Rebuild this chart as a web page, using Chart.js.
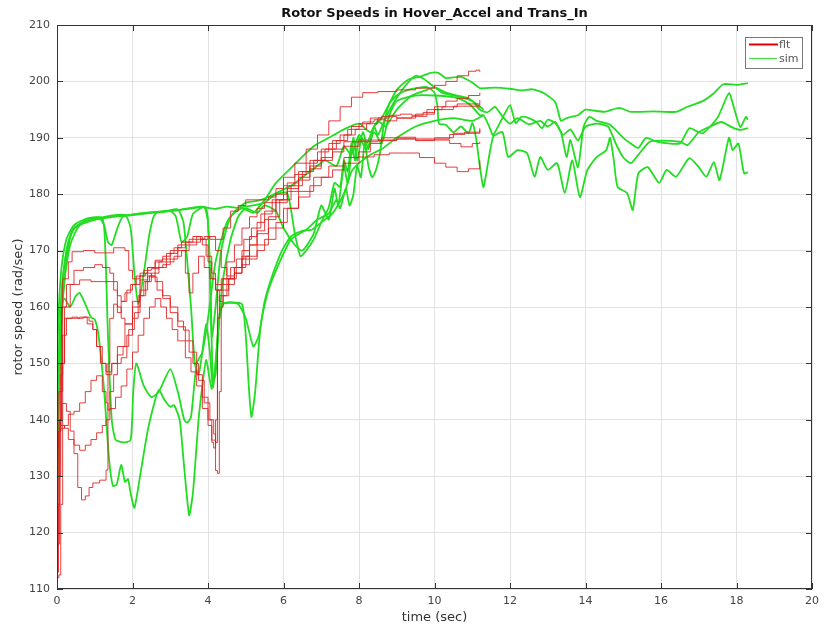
<!DOCTYPE html>
<html lang="en">
<head>
<meta charset="UTF-8" />
<title>Rotor Speeds in Hover_Accel and Trans_In</title>
<script src="https://cdn.jsdelivr.net/npm/chart.js@4"></script>
<style>
  html, body { margin: 0; padding: 0; background: #fff; }
</style>
</head>
<body>
<canvas id="rotorChart" width="825" height="626"></canvas>
<script>
// axis ticks
const timeTicks = [0, 2, 4, 6, 8, 10, 12, 14, 16, 18, 20];
const speedTicks = [110, 120, 130, 140, 150, 160, 170, 180, 190, 200, 210];

// flight data, [time (sec), rotor speed (rad/sec)]
const flt1 = [[0,112],[0.05,112.5],[0.1,125],[0.15,150],[0.2,158],[0.45,158],[0.6,158.2],[0.8,157],[0.95,156],[1.05,153],[1.2,150],[1.3,148],[1.45,150],[1.6,153],[1.8,157],[2.0,161],[2.2,164.8],[2.4,167],[2.6,168.3],[2.8,169],[3.0,170],[3.2,171],[3.5,171.5],[3.8,172],[4.0,172.5],[4.2,172],[4.4,174],[4.6,177],[4.8,178],[5.0,179],[5.3,179],[5.6,179.5],[5.8,181],[6.0,183],[6.3,185.5],[6.6,188],[6.9,190.5],[7.2,193],[7.5,195.5],[7.8,197.2],[8.1,198],[8.5,198.2],[9.0,198.5],[9.5,198.8],[10.0,199.3],[10.3,200],[10.6,201],[10.9,201.8],[11.1,202],[11.2,201.7]];
const flt2 = [[0,140],[0.05,145],[0.15,165],[0.3,168],[0.4,169.8],[0.7,170],[1.0,169.6],[1.26,169.6],[1.5,170.5],[1.8,170],[1.9,166.5],[2.0,165],[2.2,166],[2.4,167],[2.6,168],[2.8,168.5],[3.0,169.5],[3.2,170.5],[3.4,171.5],[3.6,172.5],[3.8,172],[3.95,169],[4.1,166],[4.2,164],[4.35,165],[4.5,168],[4.7,171],[4.9,174],[5.1,176],[5.3,177.5],[5.5,178.5],[5.8,180],[6.1,182],[6.4,184],[6.7,186],[7.0,188],[7.3,189.5],[7.6,190.5],[7.9,191.5],[8.2,192.5],[8.5,193.5],[8.8,194],[9.1,194.2],[9.4,194],[9.7,194.5],[10.0,195.5],[10.3,196.5],[10.6,197],[10.9,197.5],[11.2,198]];
const flt3 = [[0,118],[0.07,140],[0.12,160],[0.25,164],[0.45,166.5],[0.7,167],[1.0,167.5],[1.2,167],[1.4,166],[1.5,163],[1.6,160],[1.7,158],[1.8,157],[2.0,160],[2.2,163],[2.4,165.5],[2.6,167],[2.8,167.5],[3.0,168.5],[3.2,170],[3.4,166],[3.5,162.5],[3.6,166],[3.75,169],[3.9,167],[4.05,165],[4.2,163],[4.35,164],[4.5,165],[4.7,167],[4.9,169],[5.1,171],[5.3,173],[5.6,176],[5.9,179],[6.2,181.5],[6.5,184],[6.8,186],[7.1,188],[7.4,189.5],[7.7,191.5],[8.0,192.5],[8.3,193.5],[8.6,193.8],[9.0,193.5],[9.4,193.8],[9.8,195],[10.2,195.5],[10.6,196],[11.2,196.7]];
const flt4 = [[0,125],[0.05,138],[0.1,150],[0.2,160],[0.35,164],[0.6,164.8],[0.9,164.5],[1.2,164.5],[1.5,164.5],[1.6,162],[1.7,161],[1.8,162.5],[1.95,164],[2.1,165.5],[2.3,166.5],[2.5,166.8],[2.7,168],[2.9,169.5],[3.1,170.5],[3.3,171.5],[3.5,172],[3.7,172.5],[3.85,171],[4.0,168],[4.1,165],[4.2,163],[4.3,161],[4.4,162],[4.55,165],[4.75,168.5],[4.95,172],[5.15,174],[5.4,176.5],[5.7,179],[6.0,181.5],[6.3,183.5],[6.6,185.5],[6.9,187.5],[7.2,189],[7.5,190.5],[7.8,192],[8.1,192.8],[8.4,193.2],[8.7,193],[9.0,193.5],[9.5,194.2],[10.0,195],[10.5,195.6],[11.2,196]];
const flt5 = [[0,113],[0.04,125],[0.08,140],[0.13,142.9],[0.25,141.5],[0.35,138],[0.45,134],[0.55,128],[0.65,125.8],[0.75,126.5],[0.85,128],[0.95,128.8],[1.13,129.3],[1.3,131.1],[1.35,150],[1.4,158],[1.5,160.5],[1.6,159],[1.7,161],[1.85,163],[2.0,164],[2.2,165.5],[2.35,166],[2.5,165.3],[2.65,163],[2.8,161.5],[3.0,160],[3.2,157.5],[3.35,155.9],[3.5,152],[3.7,148],[3.85,144],[4.0,140],[4.1,136.4],[4.2,131],[4.25,130.5],[4.3,145],[4.35,160],[4.4,163],[4.55,165],[4.7,167],[4.9,170],[5.1,172.5],[5.3,175],[5.5,177],[5.8,179],[6.1,181],[6.4,183],[6.7,185],[7.0,186.5],[7.3,188],[7.6,189.3],[8.0,189.6],[8.5,189.6],[9.0,189.8],[9.5,189.6],[10.0,189.8],[10.4,190.6],[10.8,191],[11.2,191.7]];
const flt6 = [[0,120],[0.05,130],[0.1,138.5],[0.2,139],[0.3,141],[0.45,141.5],[0.6,143],[0.75,145],[0.9,147],[1.05,147.8],[1.2,145],[1.3,143],[1.35,141.7],[1.4,145],[1.5,148],[1.6,150],[1.7,151],[1.85,155],[2.0,158],[2.15,162],[2.3,164.5],[2.45,165.5],[2.6,164.5],[2.8,162],[3.0,159],[3.2,156.5],[3.4,154],[3.6,150],[3.75,147],[3.9,143],[4.05,140],[4.15,137.5],[4.2,136],[4.25,158],[4.3,162],[4.5,164],[4.7,166],[4.9,168.5],[5.1,171],[5.3,173.5],[5.5,175.5],[5.8,178.5],[6.1,180.5],[6.4,182.5],[6.7,184.5],[7.0,186],[7.3,187.5],[7.6,188.5],[8.0,189.3],[8.5,189.5],[9.0,189.8],[9.5,189.5],[10.0,190],[10.5,190.8],[11.2,191.4]];
const flt7 = [[0,135],[0.05,140],[0.1,139],[0.2,138.5],[0.3,136.5],[0.45,135.5],[0.6,134.6],[0.75,135.5],[0.9,136.5],[1.05,137.7],[1.2,139],[1.3,140],[1.4,142],[1.55,144],[1.7,146],[1.85,149],[2.0,152],[2.15,155],[2.3,158],[2.45,160],[2.6,161.5],[2.75,160],[2.9,158],[3.05,156],[3.2,154],[3.4,151],[3.55,148.5],[3.7,146],[3.85,142],[4.0,139],[4.1,136],[4.15,135],[4.2,140],[4.25,163],[4.4,165],[4.6,167],[5.0,169],[5.3,171],[5.6,174],[6.0,177.5],[6.4,180.5],[6.8,183],[7.2,185],[7.6,186.5],[8.0,187.5],[8.3,189],[8.6,190],[9.0,190.1],[9.5,189.8],[10.0,189.6],[10.4,189],[10.7,188.4],[11.0,189],[11.2,189.3]];
const flt8 = [[0,130],[0.05,138],[0.1,148],[0.15,155],[0.25,158],[0.4,158.2],[0.55,158],[0.7,158.2],[0.85,157.5],[0.95,156],[1.05,153],[1.15,150],[1.3,148.5],[1.45,150],[1.6,151.5],[1.75,153],[1.9,156],[2.05,159],[2.2,162],[2.35,164.5],[2.5,166],[2.7,167],[2.9,168],[3.1,169],[3.3,170],[3.5,171],[3.7,172],[3.9,172.5],[4.05,172],[4.2,170],[4.35,167],[4.5,165.5],[4.7,166],[4.9,167.5],[5.1,168.5],[5.3,170],[5.5,172],[5.8,175],[6.1,177.5],[6.4,179.5],[6.7,181.5],[7.0,183],[7.3,184.3],[7.6,185.5],[8.0,186.6],[8.4,187],[8.8,187.3],[9.2,187.3],[9.6,186.5],[10.0,185.5],[10.3,184.8],[10.6,184],[10.9,184.5],[11.2,186]];

// simulation data, [time (sec), rotor speed (rad/sec)]
const sim1 = [[0,150],[0.05,160],[0.12,167],[0.25,172],[0.45,174.5],[0.8,175.7],[1.1,175.9],[1.25,174.5],[1.35,171.5],[1.45,171],[1.6,174],[1.75,176],[2.5,176.8],[3.2,177.2],[3.8,177.8],[4.2,177.4],[4.5,177.8],[4.8,177.6],[5.0,178.5],[5.3,178.8],[5.6,179.5],[5.9,180.5],[6.2,181.5],[6.5,183],[6.8,184.5],[7.1,186],[7.4,185],[7.6,188.5],[7.8,187],[8.0,190.5],[8.2,189],[8.4,192],[8.6,193.5],[8.8,196],[9.0,198.5],[9.3,200.3],[9.6,200.8],[9.9,201.5],[10.1,201.5],[10.3,200.6],[10.7,200.8],[11.0,199.8],[11.2,198.8],[11.6,198.9],[12.0,198.7],[12.3,198.4],[12.6,198.6],[12.9,197.9],[13.2,196.3],[13.35,193],[13.5,193.5],[13.8,194],[14.0,195],[14.5,194.6],[14.9,195.3],[15.2,194.6],[15.8,194.7],[16.4,194.6],[16.7,195.5],[17.1,196.5],[17.4,197.9],[17.65,199.5],[18.0,199.4],[18.3,199.7]];
const sim2 = [[0,140],[0.05,152],[0.15,165],[0.3,171.5],[0.5,174.3],[1.0,175.6],[1.8,176.3],[1.95,174],[2.05,166],[2.15,160.5],[2.3,166],[2.45,173],[2.6,176.5],[3.0,177],[3.6,177.5],[3.95,177.6],[4.03,170],[4.1,154.7],[4.2,160],[4.35,170],[4.6,176],[4.9,177.5],[5.2,176.7],[5.5,179],[5.8,182],[6.1,184],[6.4,186],[6.8,188.5],[7.2,190],[7.6,191.5],[8.0,192.5],[8.3,191],[8.5,193],[8.7,192],[9.0,195],[9.4,197.5],[9.8,198.5],[10.0,199],[10.3,198],[10.6,197.5],[10.9,197],[11.3,195]];
const sim3 = [[0,128],[0.05,148],[0.12,162],[0.25,170],[0.45,174],[1.0,175.5],[2.0,176.4],[3.0,177],[3.15,176],[3.3,171.5],[3.45,172.5],[3.6,176.5],[3.9,177.7],[4.0,175],[4.08,160],[4.13,145.8],[4.2,150],[4.35,160.5],[4.6,160.8],[4.9,160.5],[5.0,155],[5.08,146],[5.15,140.5],[5.25,145],[5.4,157],[5.6,163],[5.9,168],[6.2,172],[6.6,173.7],[6.9,175.5],[7.2,176.6],[7.4,179],[7.5,177.5],[7.65,181],[7.75,178],[7.85,179.9],[7.95,185],[8.05,183],[8.15,189],[8.25,185],[8.35,183],[8.45,184.3],[8.55,187],[8.65,192],[8.8,196],[9.0,197.5],[9.3,198.5],[9.8,199],[10.0,198],[10.08,195.5],[10.12,192.5],[10.3,192.3],[10.5,191],[10.7,192],[10.9,190.8],[11.0,192.6],[11.1,190],[11.2,185],[11.3,181.3],[11.55,190.1],[11.8,191],[11.95,186.6],[12.2,187.8],[12.45,187.3],[12.65,183.1],[12.8,186.6],[13.0,184.3],[13.25,185.5],[13.45,180.2],[13.65,186],[13.85,179.5],[14.05,184.3],[14.3,186.6],[14.55,187.8],[14.65,190],[14.75,186],[14.85,181.3],[15.1,180.2],[15.25,177.2],[15.4,183.7],[15.65,184.8],[15.95,182],[16.15,184.3],[16.4,183.1],[16.75,186.4],[17.0,184.8],[17.2,183.1],[17.4,185.7],[17.55,182.5],[17.8,190],[17.9,187.8],[18.05,189],[18.2,183.7],[18.3,183.9]];
const sim4 = [[0,132],[0.05,145],[0.12,158],[0.25,168],[0.4,173.5],[0.8,175.5],[1.2,175.8],[1.28,170],[1.35,155],[1.45,140],[1.55,136.5],[1.75,136],[1.95,136.4],[2.02,145],[2.1,150],[2.3,146],[2.5,144],[2.7,145],[3.0,149],[3.2,145],[3.37,140],[3.45,139.5],[3.55,140.5],[3.7,150],[3.85,152],[4.0,158],[4.2,168],[4.5,175],[4.8,177.5],[5.2,178],[5.5,178.5],[5.8,180],[6.1,180.2],[6.3,173],[6.45,169],[6.6,170],[6.8,172],[7.0,175],[7.2,177.7],[7.35,182],[7.5,181.3],[7.6,186],[7.7,184],[7.8,189],[7.9,186],[8.0,190],[8.2,188],[8.4,191],[8.6,189],[8.8,194],[9.0,196.5],[9.5,197.5],[10.0,197.5],[10.5,197.2],[10.8,196.5],[11.0,195.5],[11.2,194],[11.3,194],[11.45,192],[11.55,190.5],[11.8,193.5],[12.0,195.8],[12.15,192.6],[12.3,193.7],[12.5,193.5],[12.7,192.8],[12.85,191.7],[13.0,193.2],[13.2,192.6],[13.35,191],[13.5,186.6],[13.6,189.6],[13.8,184.8],[13.95,192],[14.1,193.7],[14.3,193],[14.65,192.3],[15.0,190],[15.2,189],[15.4,188.2],[15.6,190],[15.9,189.3],[16.5,189],[16.75,191.7],[17.1,190.8],[17.5,193.6],[17.8,197.9],[17.95,194.9],[18.1,191.9],[18.25,193.7],[18.3,193.2]];
const sim5 = [[0,124],[0.04,140],[0.1,155],[0.2,165],[0.35,171],[0.6,174.5],[1.2,175.8],[2.0,176.3],[2.9,177],[3.2,177.3],[3.35,175],[3.45,168],[3.55,160],[3.65,150],[3.75,148],[3.85,152],[3.95,157],[4.05,152],[4.12,146.5],[4.2,148],[4.3,158],[4.4,165],[4.6,172],[4.8,176],[5.0,177.5],[5.3,176.7],[5.5,178],[5.8,177],[6.0,174],[6.3,171],[6.5,170],[6.8,173],[7.0,178],[7.2,175.5],[7.35,181],[7.45,178],[7.6,185],[7.7,182],[7.85,190],[7.95,186],[8.1,191],[8.25,188],[8.4,192],[8.5,190.5],[8.7,193.5],[8.9,196],[9.2,199],[9.5,201],[9.7,200.5],[9.9,199.5],[10.2,198],[10.5,197.5],[10.8,197],[11.0,196.5],[11.2,195],[11.4,194.5],[11.6,195.5],[11.8,193.8],[12.0,192.5],[12.2,193.5],[12.5,192.4],[12.8,193],[13.0,192],[13.2,192.8],[13.4,190.5],[13.6,191.5],[13.8,189.5],[14.0,192],[14.3,192.5],[14.6,192],[14.8,189],[15.0,186.5],[15.2,185.5],[15.4,187],[15.7,189.3],[16.0,189.5],[16.5,189.3],[16.7,188.7],[17.0,191],[17.3,192],[17.6,192.8],[17.9,191.8],[18.1,191.4],[18.3,191.7]];
const sim6 = [[0,155],[0.04,158],[0.1,160],[0.2,161.5],[0.35,160],[0.5,162],[0.6,162.5],[0.75,160.5],[0.9,158.2],[1.0,157.8],[1.1,155],[1.25,145],[1.38,133],[1.48,128.3],[1.58,128.5],[1.7,132],[1.8,129],[1.88,129.5],[1.95,127],[2.05,124.4],[2.2,130],[2.4,138],[2.6,143.5],[2.7,145.3],[2.85,143.5],[3.0,142.3],[3.1,142.6],[3.25,140],[3.35,133],[3.5,123.1],[3.6,127],[3.75,140],[3.85,146],[3.95,150.6],[4.05,147],[4.1,145.5],[4.2,150],[4.3,158],[4.4,160.5],[4.6,160.8],[4.8,160.5],[5.0,158],[5.2,153],[5.35,155],[5.5,161],[5.7,165.5],[5.96,170],[6.2,172.5],[6.5,173.5],[6.75,173.7],[7.0,175],[7.3,176.6],[7.6,180],[7.8,184],[8.0,185.5],[8.3,187],[8.6,188],[9.0,190],[9.5,192],[10.0,193],[10.5,193.5],[11.0,193],[11.3,194]];

const fltRuns = [flt1, flt2, flt3, flt4, flt5, flt6, flt7, flt8];
const simRuns = [sim1, sim2, sim3, sim4, sim5, sim6];

const FLT_COLOR = 'rgba(222, 28, 28, 0.85)';
const SIM_COLOR = '#22dd22';

const toXY = run => run.map(([t, w]) => ({ x: t, y: w }));

const datasets = [];
fltRuns.forEach((run, i) => {
  datasets.push({
    label: i === 0 ? 'flt' : 'flt' + (i + 1),
    data: toXY(run),
    borderColor: FLT_COLOR,
    borderWidth: 1,
    stepped: true,
    pointRadius: 0
  });
});
simRuns.forEach((run, i) => {
  datasets.push({
    label: i === 0 ? 'sim' : 'sim' + (i + 1),
    data: toXY(run),
    borderColor: SIM_COLOR,
    borderWidth: 1.8,
    tension: 0.2,
    pointRadius: 0
  });
});

const FONT = '"DejaVu Sans", "Liberation Sans", sans-serif';

// MATLAB style frame: box around the axes, inward ticks, title and legend
const axesDecor = {
  id: 'axesDecor',
  afterDraw(chart) {
    const { ctx, chartArea: a, scales: { x, y } } = chart;
    ctx.save();
    ctx.strokeStyle = '#333';
    ctx.lineWidth = 1;
    ctx.strokeRect(a.left + 0.5, a.top + 0.5, a.right - a.left - 1, a.bottom - a.top - 1);
    ctx.beginPath();
    timeTicks.forEach(t => {
      const px = Math.round(x.getPixelForValue(t)) + 0.5;
      ctx.moveTo(px, a.bottom); ctx.lineTo(px, a.bottom - 6);
      ctx.moveTo(px, a.top); ctx.lineTo(px, a.top + 6);
    });
    speedTicks.forEach(v => {
      const py = Math.round(y.getPixelForValue(v)) + 0.5;
      ctx.moveTo(a.left, py); ctx.lineTo(a.left + 6, py);
      ctx.moveTo(a.right, py); ctx.lineTo(a.right - 6, py);
    });
    ctx.stroke();

    // title
    ctx.fillStyle = '#111';
    ctx.font = 'bold 13px ' + FONT;
    ctx.textAlign = 'center';
    ctx.textBaseline = 'middle';
    ctx.fillText('Rotor Speeds in Hover_Accel and Trans_In', (a.left + a.right) / 2, a.top - 11);

    // legend
    const lx = a.right - 67, ly = a.top + 12, lw = 57, lh = 31;
    ctx.fillStyle = '#fff';
    ctx.fillRect(lx, ly, lw, lh);
    ctx.strokeStyle = '#777';
    ctx.strokeRect(lx + 0.5, ly + 0.5, lw, lh);
    ctx.lineWidth = 2;
    ctx.strokeStyle = '#e00000';
    ctx.beginPath(); ctx.moveTo(lx + 4, ly + 7.5); ctx.lineTo(lx + 33, ly + 7.5); ctx.stroke();
    ctx.lineWidth = 1.2;
    ctx.strokeStyle = '#44dd44';
    ctx.beginPath(); ctx.moveTo(lx + 4, ly + 21.5); ctx.lineTo(lx + 32, ly + 21.5); ctx.stroke();
    ctx.fillStyle = '#555';
    ctx.font = '11px ' + FONT;
    ctx.textAlign = 'left';
    ctx.fillText('flt', lx + 34, ly + 8);
    ctx.fillText('sim', lx + 34, ly + 22);
    ctx.restore();
  }
};

new Chart(document.getElementById('rotorChart'), {
  type: 'line',
  data: { datasets },
  options: {
    responsive: false,
    animation: false,
    devicePixelRatio: 1,
    layout: { padding: { top: 25, right: 9, left: 0, bottom: 0 } },
    plugins: {
      legend: { display: false },
      title: { display: false },
      tooltip: { enabled: false }
    },
    scales: {
      x: {
        type: 'linear',
        min: 0,
        max: 20,
        afterBuildTicks: s => { s.ticks = timeTicks.map(v => ({ value: v })); },
        afterFit: s => { s.height = 37; },
        grid: { color: '#e2e2e2', drawTicks: false },
        border: { display: false },
        ticks: { padding: 6, color: '#444', font: { family: FONT, size: 11 } },
        title: { display: true, text: 'time (sec)', color: '#333', font: { family: FONT, size: 13 }, padding: { top: 0, bottom: 1 } }
      },
      y: {
        type: 'linear',
        min: 110,
        max: 210,
        afterBuildTicks: s => { s.ticks = speedTicks.map(v => ({ value: v })); },
        afterFit: s => { s.width = 57; },
        grid: { color: '#e2e2e2', drawTicks: false },
        border: { display: false },
        ticks: { padding: 7, color: '#444', font: { family: FONT, size: 11 } },
        title: { display: true, text: 'rotor speed (rad/sec)', color: '#333', font: { family: FONT, size: 13 }, padding: { top: 11, bottom: 0 } }
      }
    }
  },
  plugins: [axesDecor]
});
</script>
</body>
</html>
